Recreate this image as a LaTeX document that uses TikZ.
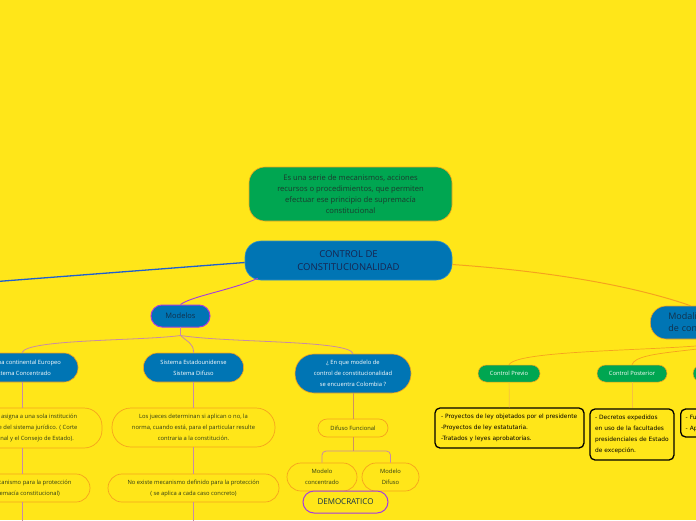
\documentclass[tikz,border=0pt]{standalone}
\usepackage{fontspec}
\setmainfont{Open Sans}
\newfontfamily\boxfont{DejaVu Sans}
\definecolor{bg}{HTML}{FFE619}
\definecolor{mblue}{HTML}{0075B4}
\definecolor{mgreen}{HTML}{00A651}
\definecolor{morange}{HTML}{F6A21E}
\definecolor{mpurple}{HTML}{A43BE0}
\definecolor{mauve}{HTML}{C98BA6}
\definecolor{lineblue}{HTML}{1F5FCF}
\definecolor{navytxt}{HTML}{17244F}
\definecolor{darktxt}{HTML}{12304A}
\definecolor{olivetxt}{HTML}{2E3B16}
\definecolor{greentxt}{HTML}{1C3A2E}
\definecolor{brownline}{HTML}{D09060}
\definecolor{lightorange}{HTML}{F7C040}
\tikzset{
 pill/.style={rounded corners=#1, inner sep=0pt, align=center},
 topbox/.style={pill=16pt, fill=mgreen, draw=morange, line width=0.6pt, text=greentxt, font=\fontsize{7.6}{11}\selectfont},
 rootbox/.style={pill=16pt, fill=mblue, draw=mblue!80!white, line width=0.6pt, text=navytxt, font=\fontsize{9.5}{13}\selectfont},
 modbox/.style={pill=11pt, fill=mblue, draw=mpurple, line width=1pt, text=darktxt, font=\fontsize{7.5}{9}\selectfont},
 bluetwo/.style={pill=14pt, fill=mblue, draw=morange, line width=0.6pt, text=white, font=\fontsize{5.8}{11}\selectfont},
 yelbox/.style={pill=#1, fill=bg, draw=morange, line width=0.7pt, text=olivetxt, font=\fontsize{5.8}{11}\selectfont},
 greenbox/.style={pill=8.5pt, fill=mgreen, draw=morange, line width=0.5pt, text=white, font=\fontsize{5.8}{7}\selectfont},
 blackbox/.style={rounded corners=5pt, inner ysep=0pt, fill=bg, draw=black, line width=1.3pt, text=black, align=left, font=\boxfont\fontsize{5.9}{11}\selectfont},
 mauveline/.style={draw=mauve, line width=0.8pt},
}
\begin{document}
\begin{tikzpicture}[x=1pt,y=-1pt]
\fill[bg] (0,0) rectangle (696,520);
\useasboundingbox (0,0) rectangle (696,520);
\clip (0,0) rectangle (696,520);

% top and root
\node[topbox, minimum width=203pt, minimum height=54pt] (def) at (350.5,194)
 {Es una serie de mecanismos, acciones\\recursos o procedimientos, que permiten\\efectuar ese principio de supremacía\\constitucional};
\node[rootbox, minimum width=207pt, minimum height=39pt] (root) at (348.5,260.5)
 {CONTROL DE\\CONSTITUCIONALIDAD};

% Modelos
\node[modbox, minimum width=59pt, minimum height=22pt] (mod) at (180.5,316) {Modelos};

% Modalidades
\node[pill=16pt, fill=mblue, draw=morange, line width=0.6pt, text=darktxt, font=\fontsize{9}{12}\selectfont,
      anchor=west, inner xsep=18pt, text width=140pt, align=left, minimum height=33pt] (moda) at (650,322.5)
 {Modalidades del control\\de constitucionalidad};

% connectors from root
\coordinate (lft) at (-3,281.5);
\draw[lineblue, line width=1.3pt] (lft) -- ([yshift=-2pt]root.west);
\draw[morange, line width=1pt] ([yshift=-4pt]root.east) .. controls (560,272) and (640,288) .. (moda);
\draw[mpurple, line width=0.9pt] ([xshift=13pt,yshift=2pt]root.south west) .. controls (232,290) and (192,296) .. (mod.north);

% level 2
\node[bluetwo, minimum width=112pt, minimum height=29pt] (eur) at (22,367.5)
 {Sistema continental Europeo\\Sistema Concentrado};
\node[bluetwo, minimum width=100pt, minimum height=29pt] (usa) at (193.5,367.5)
 {Sistema Estadounidense\\Sistema Difuso};
\node[bluetwo, pill=19pt, minimum width=116pt, minimum height=39pt] (col) at (353,373.5)
 {¿ En que modelo de\\control de constitucionalidad\\se encuentra Colombia ?};

\draw[mauveline] (mod.south) -- ++(0,8) .. controls (140,341) and (26,339) .. (eur.north);
\draw[mauveline] (mod.south) -- ++(0,8) .. controls (186,341) and (194,343) .. (usa.north);
\draw[mauveline] (mod.south) -- ++(0,8) .. controls (230,343) and (350,340) .. (col.north);

% left column
\node[yelbox=18pt, minimum width=160pt, minimum height=40pt] (eur3) at (22,428)
 {El control se asigna  a una sola institución\\en la cúspide del sistema jurídico. ( Corte\\Constitucional y el Consejo de Estado).};
\node[yelbox=14pt, minimum width=136pt, minimum height=28pt] (eur4) at (22,488)
 {Existe mecanismo para la protección\\( supremacía constitucional)};
\coordinate (eurend) at (22,525);
\draw[mauveline] (eur) -- (eur3);
\draw[mauveline] (eur3) -- (eur4);
\draw[mauveline] (eur4) -- (eurend);

% middle column
\node[yelbox=19pt, minimum width=163pt, minimum height=39pt] (usa3) at (193.5,427.5)
 {Los jueces determinan si aplican o no, la\\norma, cuando está, para el particular resulte\\contraria a la constitución.};
\node[yelbox=14pt, minimum width=171pt, minimum height=28pt] (usa4) at (193.5,488)
 {No existe mecanismo definido para la protección\\( se aplica a cada caso concreto)};
\coordinate (usaend) at (193.5,525);
\draw[mauveline] (usa) -- (usa3);
\draw[mauveline] (usa3) -- (usa4);
\draw[mauveline] (usa4) -- (usaend);

% right column (Colombia)
\node[yelbox=9pt, minimum width=70pt, minimum height=18pt] (dif) at (353,428) {Difuso Funcional};
\draw[brownline, line width=0.8pt] (col) -- (dif);
\node[yelbox=14pt, minimum width=70pt, minimum height=28pt] (conc) at (322,477) {Modelo\\concentrado};
\node[yelbox=14pt, minimum width=57pt, minimum height=28pt] (mdif) at (390.5,477) {Modelo\\Difuso};
\coordinate (br) at (353,451);
\draw[brownline, line width=0.8pt] (dif) -- (br);
\draw[mauveline, rounded corners=4pt] (br) -| (conc.north);
\draw[mauveline, rounded corners=4pt] (br) -| (mdif.north);
\node[pill=11pt, fill=bg, draw=mpurple, line width=1pt, text=darktxt, font=\fontsize{8}{9}\selectfont,
      minimum width=85pt, minimum height=22pt] (dem) at (345.5,502) {DEMOCRATICO};

% right side (Modalidades)
\node[greenbox, minimum width=62pt, minimum height=17pt] (cp) at (509,373.5) {Control Previo};
\node[greenbox, minimum width=70pt, minimum height=17pt] (cpo) at (632,373.5) {Control Posterior};
\node[greenbox, minimum width=74pt, minimum height=17pt] (cdf) at (730,373.5) {Control Difuso};
\draw[morange, line width=0.7pt] (moda.south) .. controls (715,352) and (518,347) .. (cp.north);
\draw[morange, line width=0.7pt] (moda.south) .. controls (715,353) and (636,349) .. (cpo.north);
\draw[morange, line width=0.7pt] (moda.south) -- (cdf.north);

\node[blackbox, inner xsep=6pt, text width=137pt, minimum height=40pt] (b1) at (509.5,428)
 {- Proyectos de ley objetados por el presidente\\-Proyectos de ley estatutaria.\\-Tratados y leyes aprobatorias.};
\node[blackbox, inner xsep=5pt, text width=74pt, minimum height=51pt] (b2) at (632,434.5)
 {- Decretos expedidos\\en uso de la facultades\\presidenciales de Estado\\de excepción.};
\node[blackbox, inner xsep=5pt, text width=80pt, minimum height=28pt, anchor=west] (b3) at (680,423)
 {- Fu\\- Ap};
\draw[lightorange, line width=0.7pt] (cp) -- (b1);
\draw[lightorange, line width=0.7pt] (cpo) -- (b2);
\draw[lightorange, line width=0.7pt] (cdf) -- (b3);
\end{tikzpicture}
\end{document}
